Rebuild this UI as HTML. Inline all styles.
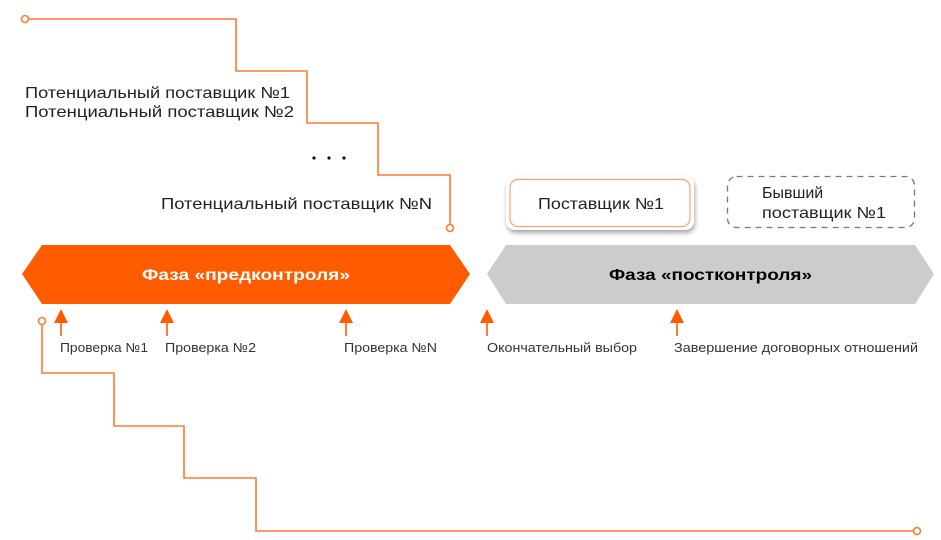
<!DOCTYPE html>
<html><head><meta charset="utf-8"><style>
html,body{margin:0;padding:0;background:#fff;}
svg{display:block;font-family:"Liberation Sans",sans-serif;}
</style></head><body>
<svg width="941" height="540" viewBox="0 0 941 540" xmlns="http://www.w3.org/2000/svg">
<defs>
<filter id="sh" x="-20%" y="-30%" width="140%" height="170%"><feDropShadow dx="1" dy="3" stdDeviation="2.5" flood-color="#000" flood-opacity="0.35"/></filter>
</defs>
<g fill="none" stroke="#FF7A33" stroke-width="1.6">
<polyline points="28,19 236,19 236,71 307,71 307,123 378,123 378,175 450,175 450,225"/>
<circle cx="25" cy="19" r="3.5" fill="#fff"/>
<circle cx="450" cy="228" r="3.5" fill="#fff"/>
<polyline points="42,324 42,373 114,373 114,426 184,426 184,478 256,478 256,531 914,531"/>
<circle cx="42" cy="321" r="3.5" fill="#fff"/>
<circle cx="917" cy="531" r="3.5" fill="#fff"/>
</g>
<g font-size="16" fill="#222">
<text x="25" y="98" textLength="265" lengthAdjust="spacingAndGlyphs">Потенциальный поставщик №1</text>
<text x="25" y="117" textLength="269" lengthAdjust="spacingAndGlyphs">Потенциальный поставщик №2</text>
<text x="161" y="209" textLength="271" lengthAdjust="spacingAndGlyphs">Потенциальный поставщик №N</text>
</g>
<g fill="#111"><circle cx="314" cy="158" r="1.6"/><circle cx="329" cy="158" r="1.6"/><circle cx="344" cy="158" r="1.6"/></g>
<rect x="506" y="176" width="188" height="54" rx="9" fill="#fff" filter="url(#sh)"/>
<rect x="510" y="179.5" width="180" height="47" rx="8" fill="#fff" stroke="#FFA070" stroke-width="1.2"/>
<text x="538" y="209" font-size="16" fill="#222" textLength="126" lengthAdjust="spacingAndGlyphs">Поставщик №1</text>
<rect x="727.5" y="176.5" width="187" height="51" rx="9" fill="none" stroke="#777" stroke-width="1.3" stroke-dasharray="6,5"/>
<text x="762" y="198" font-size="16" fill="#222">Бывший</text>
<text x="762" y="218" font-size="16" fill="#222" textLength="124" lengthAdjust="spacingAndGlyphs">поставщик №1</text>
<polygon points="22,274 42,245 450,245 470,274 450,304 42,304" fill="#FF5C00"/>
<text x="142" y="280" font-size="16" font-weight="bold" fill="#fff" textLength="208" lengthAdjust="spacingAndGlyphs">Фаза «предконтроля»</text>
<polygon points="487,274 506,245 915,245 934,274 915,304 506,304" fill="#CCCCCC"/>
<text x="609" y="280" font-size="16" font-weight="bold" fill="#000" textLength="203" lengthAdjust="spacingAndGlyphs">Фаза «постконтроля»</text>
<g fill="#FF5C00" stroke="#FF5C00" stroke-width="1.6">
<polygon points="61,309 54,323 68,323" stroke="none"/><line x1="61" y1="322" x2="61" y2="336"/>
<polygon points="167,309 160,323 174,323" stroke="none"/><line x1="167" y1="322" x2="167" y2="336"/>
<polygon points="346,309 339,323 353,323" stroke="none"/><line x1="346" y1="322" x2="346" y2="336"/>
<polygon points="487,309 480,323 494,323" stroke="none"/><line x1="487" y1="322" x2="487" y2="336"/>
<polygon points="677,309 670,323 684,323" stroke="none"/><line x1="677" y1="322" x2="677" y2="336"/>
</g>
<g font-size="13" fill="#333">
<text x="60" y="352" textLength="88" lengthAdjust="spacingAndGlyphs">Проверка №1</text>
<text x="165" y="352" textLength="91" lengthAdjust="spacingAndGlyphs">Проверка №2</text>
<text x="344" y="352" textLength="93" lengthAdjust="spacingAndGlyphs">Проверка №N</text>
<text x="487" y="352" textLength="150" lengthAdjust="spacingAndGlyphs">Окончательный выбор</text>
<text x="674" y="352" textLength="244" lengthAdjust="spacingAndGlyphs">Завершение договорных отношений</text>
</g>
</svg>
</body></html>
